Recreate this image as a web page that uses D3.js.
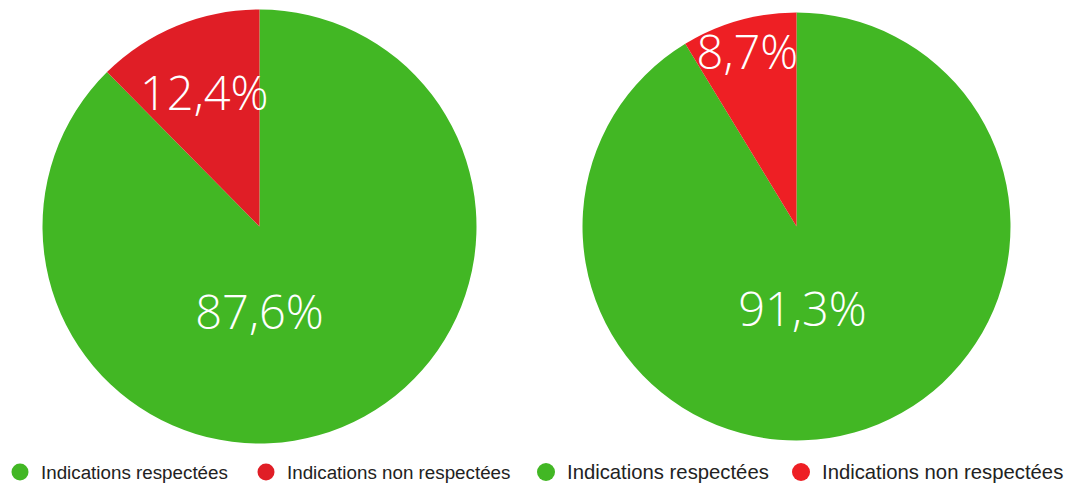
<!DOCTYPE html>
<html>
<head>
<meta charset="utf-8">
<script src="https://cdn.jsdelivr.net/npm/d3@7"></script>
<style>
  body { margin: 0; background: #fff; }
  svg { display: block; }
</style>
</head>
<body>
<div id="chart"></div>
<script>
var categories = ["Indications respectées", "Indications non respectées"];
var leftValues = [87.6, 12.4];
var rightValues = [91.3, 8.7];
var labelsLeft = ["87,6%", "12,4%"];
var labelsRight = ["91,3%", "8,7%"];
var greenColor = "#42b724";
var redColors = ["#e01e26", "#ee1f24"];

var width = 1066,
    height = 486;

var svg = d3.select("#chart").append("svg")
    .attr("width", width)
    .attr("height", height);

var pies = [
  { values: leftValues, labels: labelsLeft, cx: 259.5, cy: 226.5, r: 217, red: redColors[0],
    smallR: 0.67, bigR: 0.39, bigDx: 0, legendX: 20, legendStep: 246, legendFont: 18.8, dotR: 8.5 },
  { values: rightValues, labels: labelsRight, cx: 796.5, cy: 226.5, r: 214, red: redColors[1],
    smallR: 0.85, bigR: 0.38, bigDx: 6, legendX: 546, legendStep: 255, legendFont: 20.3, dotR: 9 }
];

pies.forEach(function(p) {
  var color = d3.scaleOrdinal().domain(categories).range([greenColor, p.red]);
  var arc = d3.arc().innerRadius(0).outerRadius(p.r);

  // green runs clockwise from 12 o'clock, red fills the rest back to 12
  var total = d3.sum(p.values);
  var redSpan = 2 * Math.PI * p.values[1] / total;
  var arcs = [
    { startAngle: 0, endAngle: 2 * Math.PI - redSpan },
    { startAngle: -redSpan, endAngle: 0 }
  ];

  var g = svg.append("g").attr("transform", "translate(" + p.cx + "," + p.cy + ")");

  g.selectAll("path")
    .data(arcs)
    .enter().append("path")
    .attr("d", arc)
    .attr("fill", function(d, i) { return color(categories[i]); });

  // labels
  var redMid = -redSpan / 2;
  var labelPos = [
    [p.bigDx, p.r * p.bigR],
    [Math.sin(redMid) * p.r * p.smallR, -Math.cos(redMid) * p.r * p.smallR]
  ];
  g.selectAll("text.lbl")
    .data(p.labels)
    .enter().append("text")
    .attr("class", "lbl")
    .attr("x", function(d, i) { return labelPos[i][0]; })
    .attr("y", function(d, i) { return labelPos[i][1]; })
    .attr("text-anchor", "middle")
    .attr("dominant-baseline", "central")
    .attr("fill", "#fff")
    .style("font-family", "'Open Sans', sans-serif")
    .style("font-weight", 300)
    .style("font-size", "47px")
    .text(function(d) { return d; });

  // legend
  var legend = svg.append("g").attr("transform", "translate(" + p.legendX + ",472)");
  categories.forEach(function(c, i) {
    var item = legend.append("g").attr("transform", "translate(" + (i * p.legendStep) + ",0)");
    item.append("circle").attr("r", p.dotR).attr("fill", color(c));
    item.append("text")
      .attr("x", 21)
      .attr("dy", "0.35em")
      .attr("fill", "#222")
      .style("font-family", "'Liberation Sans', Arial, sans-serif")
      .style("font-size", p.legendFont + "px")
      .text(c);
  });
});
</script>
</body>
</html>
